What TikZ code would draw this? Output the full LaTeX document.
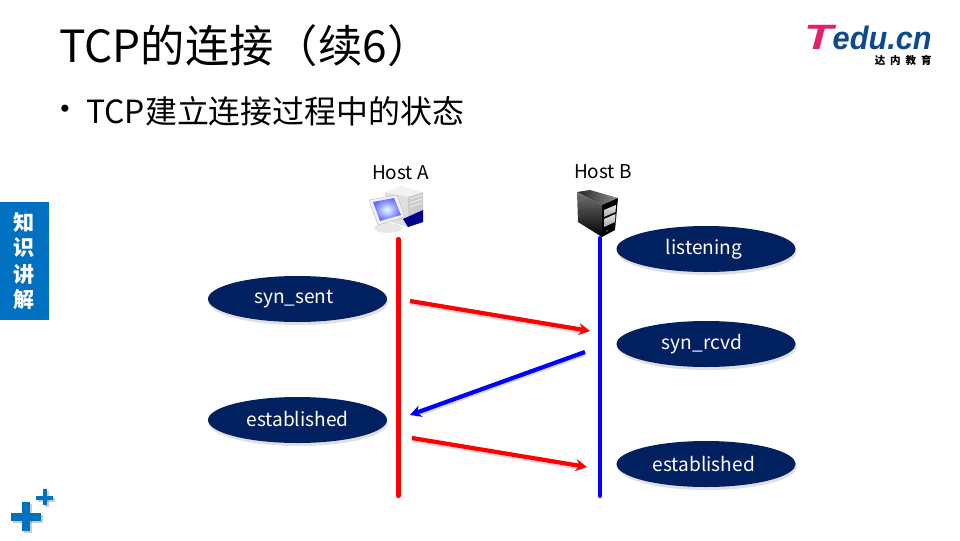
\documentclass[tikz,border=0pt]{standalone}
\usepackage{fontspec}
\setmainfont{Noto Sans CJK SC}
\newfontfamily\logofont{Liberation Sans}
\usetikzlibrary{arrows.meta,positioning,calc,shapes.geometric}
\definecolor{navyfill}{HTML}{002060}
\definecolor{panelblue}{HTML}{0070C0}
\definecolor{logoblue}{HTML}{0B4A8F}
\definecolor{logopink}{HTML}{E0226E}
\newcommand{\pxu}{*.025cm}
\tikzset{
  state/.style={ellipse,fill=navyfill,minimum width=179\pxu,minimum height=46\pxu,inner sep=0pt,text=white,font=\fontsize{13.6}{14}\selectfont},
  stateshade/.style={ellipse,fill=black,opacity=.12,minimum width=179\pxu,minimum height=46\pxu,inner sep=0pt},
  hostlabel/.style={inner sep=0pt,font=\fontsize{13.5}{14}\selectfont},
  lifeline/.style={line width=2.9pt,line cap=round},
  msg/.style={line width=3pt,-{Stealth[length=8pt,width=8.5pt]}},
  msgshade/.style={line width=3pt,black,opacity=.15},
  sidetext/.style={inner sep=0pt,text=white,font=\fontsize{15}{15}\selectfont\bfseries},
}
\begin{document}
\begin{tikzpicture}[x=.025cm,y=-.025cm]
  \useasboundingbox (0,0) rectangle (960,540);

  % heading
  \node[anchor=west,inner sep=0pt,font=\fontsize{31.5}{31}\selectfont] (title) at (59,46) {TCP的连接（续6）};
  \node[inner sep=0pt,font=\fontsize{24}{24}\selectfont] (dot) at (65,113) {•};
  \node[anchor=west,inner sep=0pt,font=\fontsize{22.7}{23}\selectfont] (sub) at (86,111) {TCP建立连接过程中的状态};

  % logo
  \node[anchor=base west,inner sep=0pt,xscale=1.35,text=logopink,font=\logofont\fontsize{25}{25}\selectfont\bfseries\itshape] (logot) at (804,49) {T};
  \node[anchor=base east,inner sep=0pt,xscale=.95,text=logoblue,font=\logofont\fontsize{23}{23}\selectfont\bfseries\itshape] (logoedu) at (932,49) {edu.cn};
  \node[anchor=east,inner sep=0pt,font=\fontsize{7.5}{8}\selectfont\bfseries] (logocn) at (932,60) {达\hspace{3.5pt}内\hspace{3.5pt}教\hspace{3.5pt}育};

  % side panel
  \fill[panelblue] (0,202) rectangle (49,320);
  \node[sidetext] (zhi) at (24,222) {知};
  \node[sidetext] (shi) at (24,248) {识};
  \node[sidetext] (jiang) at (24,274) {讲};
  \node[sidetext] (jie) at (24,300) {解};

  % pluses
  \foreach \dx/\col/\op in {2/black/.2,0/panelblue/1}{
    \fill[\col,opacity=\op] (11+\dx,513+\dx) rectangle (41+\dx,521+\dx);
    \fill[\col,opacity=\op] (22+\dx,502+\dx) rectangle (30+\dx,531+\dx);
    \fill[\col,opacity=\op] (36+\dx,496+\dx) rectangle (53+\dx,500+\dx);
    \fill[\col,opacity=\op] (43+\dx,489+\dx) rectangle (47+\dx,505+\dx);
  }

  % host labels
  \node[hostlabel] (hosta) at (400.5,173) {Host A};
  \node[hostlabel] (hostb) at (603,172) {Host B};

  % host A, desktop
  \fill[gray!10] (385,192) -- (400,186) -- (423,192) -- (408,197) -- cycle;
  \fill[gray!25] (385,192) -- (408,197) -- (408,227) -- (385,220) -- cycle;
  \fill[gray!40] (408,197) -- (423,192) -- (423,222) -- (408,227) -- cycle;
  \fill[blue!55!black] (403,219) -- (423,210) -- (423,222) -- (408,227) -- cycle;
  \draw[gray!15,line width=.6pt] (410,199) -- (422,195) (410,203) -- (422,199) (410,207) -- (422,203);
  \fill[gray!18] (388,228) ellipse (14 and 5);
  \draw[gray!55,fill=blue!6,line width=.3pt] (369,200) -- (397,195) -- (405,217) -- (378,225) -- cycle;
  \shade[inner color=cyan!12,outer color=blue!60] (373,202) -- (394,198) -- (401,215) -- (380,221) -- cycle;

  % host B, server
  \shade[left color=black!85,right color=black!45] (577,192) -- (590,190) -- (618,198) -- (602,205) -- cycle;
  \shade[top color=black!55,bottom color=black] (577,192) -- (602,205) -- (602,237) -- (578,222) -- cycle;
  \fill[black] (602,205) -- (618,198) -- (615,230) -- (602,237) -- cycle;
  \shade[top color=gray!20,bottom color=gray!70] (604,210) -- (616,205) -- (615.5,212) -- (604,217) -- cycle;
  \shade[top color=gray!20,bottom color=gray!70] (604,219) -- (615.5,214) -- (615,222) -- (604,227) -- cycle;
  \fill[green!70!black] (607,231) circle (.8);

  % lifelines
  \coordinate (atop) at (398.5,239);
  \coordinate (abot) at (398.5,496);
  \coordinate (btop) at (600,238);
  \coordinate (bbot) at (600,496);
  \draw[lifeline,red] (atop) -- (abot);
  \draw[lifeline,blue] (btop) -- (bbot);

  % states
  \node[stateshade] at (298.5,302) {};
  \node[stateshade] at (298.5,423) {};
  \node[stateshade] at (707,252) {};
  \node[stateshade] at (707,347) {};
  \node[stateshade] at (707,467) {};
  \node[state] (synsent) at (297.5,299) {\hspace{-5pt}\raisebox{-3pt}{syn\_sent}};
  \node[state] (estaba) at (297.5,420) {\raisebox{1.4pt}{established}};
  \node[state] (listening) at (706,249) {\hspace{-3pt}listening};
  \node[state] (synrcvd) at (706,344) {\hspace{-6pt}syn\_rcvd};
  \node[state] (estabb) at (706,464) {\hspace{-3pt}established};

  % messages
  \coordinate (m1a) at (410,301);
  \coordinate (m1b) at (590,331);
  \coordinate (m2a) at (585,352);
  \coordinate (m2b) at (410,415);
  \coordinate (m3a) at (412,438);
  \coordinate (m3b) at (587,467);
  \draw[msgshade] ($(m1a)+(0,2)$) -- ($(m1b)+(-6,1)$);
  \draw[msgshade] ($(m2a)+(0,2)$) -- ($(m2b)+(6,0)$);
  \draw[msgshade] ($(m3a)+(0,2)$) -- ($(m3b)+(-6,1)$);
  \draw[msg,red] (m1a) -- (m1b);
  \draw[msg,blue] (m2a) -- (m2b);
  \draw[msg,red] (m3a) -- (m3b);
\end{tikzpicture}
\end{document}
